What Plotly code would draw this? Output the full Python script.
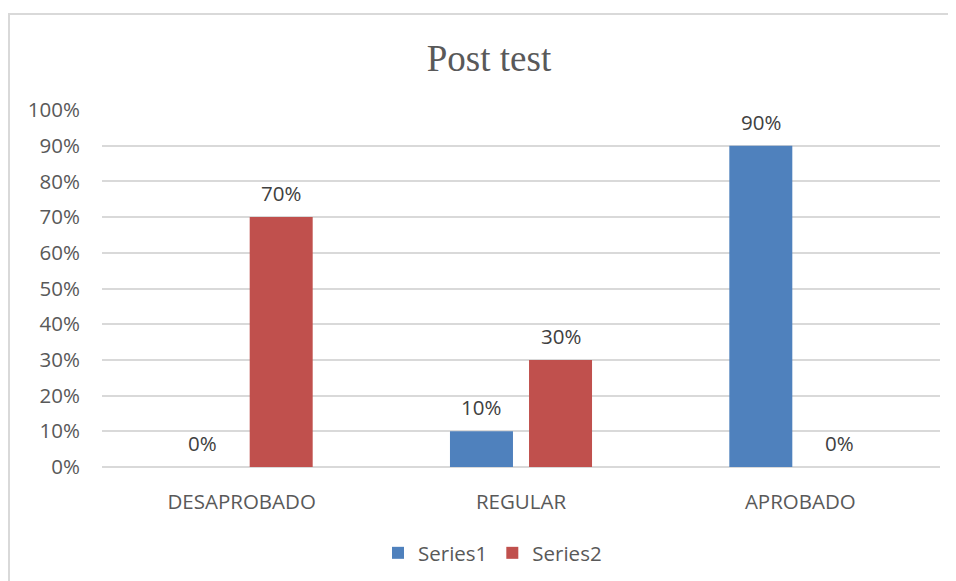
import plotly.graph_objects as go

categories = ["DESAPROBADO", "REGULAR", "APROBADO"]
series1 = [0.0, 0.10, 0.90]
series2 = [0.70, 0.30, 0.0]
series_names = ["Series1", "Series2"]
tick_vals = [i / 10 for i in range(11)]
tick_text = [f"{i*10}%" for i in range(11)]

FONT = "Open Sans"
GREY = "#595959"
FS = 20.5
BARGAP, GROUPGAP = 0.434, 0.203

# page has an 8px body margin, so figure coords = page coords - 8
OFF = 8
W, H = 956 - OFF, 581 - OFF
L, T = 102 - OFF, 110 - OFF
PR, PB = 940 - OFF, 467 - OFF
R, B = W - PR, H - PB
pw, ph = W - L - R, H - T - B

def px_x(p):
    return (p - OFF - L) / pw

def px_y(p):
    return (H - B - (p - OFF)) / ph

fig = go.Figure()
colors = ["#4f81bd", "#c0504d"]
all_series = [series1, series2]
for name, vals, color in zip(series_names, all_series, colors):
    fig.add_trace(go.Bar(
        x=categories, y=vals, name=name, marker=dict(color=color, line=dict(width=0)),
        cliponaxis=False,
    ))

# data labels, placed over each bar of the group
slot = (1 - BARGAP) * (pw / len(categories)) / len(all_series)
for si, vals in enumerate(all_series):
    dx = (si - (len(all_series) - 1) / 2) * slot
    for cat, v in zip(categories, vals):
        fig.add_annotation(x=cat, y=v, text=f"{v*100:.0f}%", showarrow=False,
                           xshift=dx, yshift=24, yanchor="middle",
                           font=dict(family=FONT, size=FS, color="#404040"))

fig.update_layout(
    width=W, height=H,
    margin=dict(l=L, r=R, t=T, b=B, autoexpand=False),
    paper_bgcolor="white", plot_bgcolor="white",
    barmode="group", bargap=BARGAP, bargroupgap=GROUPGAP,
    title=dict(text="Post test", x=(489 - OFF) / W, xanchor="center", y=1 - (58 - OFF) / H, yanchor="middle",
               font=dict(family="Liberation Serif", size=37, color=GREY)),
    font=dict(family=FONT, size=FS, color=GREY),
    legend=dict(orientation="h", x=px_x(378), xanchor="left", y=px_y(553), yanchor="middle",
                font=dict(family=FONT, size=FS, color=GREY), itemwidth=30, traceorder="normal"),
    showlegend=True,
)
fig.update_yaxes(range=[0, 1], tickvals=tick_vals, ticktext=tick_text, showgrid=True,
                 gridcolor="#d9d9d9", gridwidth=1.5, zeroline=True, zerolinecolor="#d9d9d9",
                 zerolinewidth=1.5, showline=False, ticks="outside", ticklen=17, tickcolor="rgba(0,0,0,0)",
                 tickfont=dict(family=FONT, size=FS, color=GREY), fixedrange=True, automargin=False)
fig.update_xaxes(showgrid=False, showline=False, ticks="outside", ticklen=16, tickcolor="rgba(0,0,0,0)",
                 tickfont=dict(family=FONT, size=FS, color=GREY), automargin=False)

fig.add_shape(type="rect", xref="paper", yref="paper",
              x0=px_x(9), x1=px_x(975), y0=px_y(600), y1=px_y(14),
              line=dict(color="#d9d9d9", width=2), fillcolor="rgba(0,0,0,0)", layer="below")

fig.write_html("out.html")
